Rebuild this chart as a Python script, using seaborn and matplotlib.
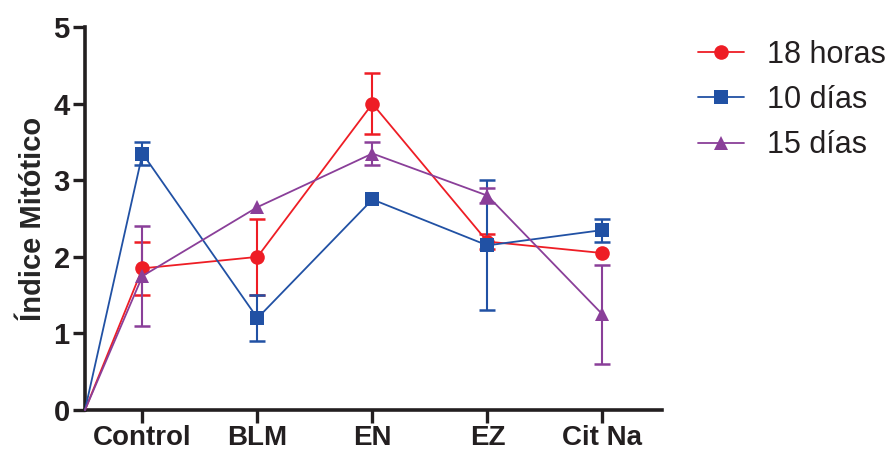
import numpy as np
import matplotlib
matplotlib.use('Agg')
import matplotlib.pyplot as plt
import seaborn as sns

# ── data ──────────────────────────────────────────────────────
categories = ["Control", "BLM", "EN", "EZ", "Cit Na"]
origin_y   = 0.0     # every series starts at the origin

series_names = ["18 horas", "10 días", "15 días"]

horas18      = [1.85, 2.00, 4.00, 2.20, 2.05]
horas18_low  = [1.50, 1.50, 3.60, 2.10, np.nan]
horas18_high = [2.20, 2.50, 4.40, 2.30, np.nan]

dias10      = [3.35, 1.20, 2.75, 2.15, 2.35]
dias10_low  = [3.20, 0.90, np.nan, 1.30, 2.20]
dias10_high = [3.50, 1.50, np.nan, 3.00, 2.50]

dias15      = [1.75, 2.65, 3.35, 2.80, 1.25]
dias15_low  = [1.10, np.nan, 3.20, 2.70, 0.60]
dias15_high = [2.40, np.nan, 3.50, 2.90, 1.90]

colors  = ["#EE1D25", "#2151A4", "#8A3F99"]
markers = ["o", "s", "^"]

# ── style ─────────────────────────────────────────────────────
sns.set_style("ticks")
plt.rcParams['font.family'] = ['Liberation Sans', 'DejaVu Sans']

fig = plt.figure(figsize=(8.9, 4.53), dpi=100)
ax = fig.add_axes([0.0955, 0.0949, 0.744 - 0.0955, 0.940 - 0.0949])

pos = np.arange(1, len(categories) + 1)
x_start = pos[0] - 0.5

all_vals = [horas18, dias10, dias15]
all_low  = [horas18_low, dias10_low, dias15_low]
all_high = [horas18_high, dias10_high, dias15_high]

for name, vals, lo, hi, col, mk in zip(series_names, all_vals, all_low,
                                       all_high, colors, markers):
    xs = np.concatenate([[x_start], pos])
    ys = np.concatenate([[origin_y], vals])
    sns.lineplot(x=xs, y=ys, ax=ax, color=col, linewidth=1.3,
                 marker=mk, markersize=10 if mk != "o" else 10.5,
                 markeredgecolor=col, markeredgewidth=0,
                 markevery=list(range(1, len(xs))), clip_on=False,
                 label=name, zorder=3)
    vals = np.asarray(vals); lo = np.asarray(lo); hi = np.asarray(hi)
    ok = ~np.isnan(lo)
    ax.errorbar(pos[ok], vals[ok],
                yerr=[vals[ok] - lo[ok], hi[ok] - vals[ok]],
                fmt="none", ecolor=col, elinewidth=1.5, capsize=6,
                capthick=1.8, zorder=2)

# ── axes ──────────────────────────────────────────────────────
ax.set_xlim(x_start, pos[-1] + 0.52)
ax.set_ylim(0, 5)
ax.set_xticks(pos)
ax.set_xticklabels(categories, fontsize=20, fontweight="bold")
ax.set_yticks(range(0, 6))
ax.set_yticklabels([str(v) for v in range(0, 6)], fontsize=21,
                   fontweight="bold")
ax.set_ylabel("Índice Mitótico", fontsize=21, fontweight="bold", labelpad=5)
ax.tick_params(axis="both", length=9, width=2.4, color="#231F20",
               pad=2, labelcolor="#231F20")
ax.tick_params(axis="x", pad=2)
for side in ["left", "bottom"]:
    ax.spines[side].set_linewidth(2.6)
    ax.spines[side].set_color("#231F20")
sns.despine(ax=ax)

leg = ax.legend(loc="upper left", bbox_to_anchor=(0.784, 0.912),
                bbox_transform=fig.transFigure, frameon=False,
                fontsize=22, handlelength=1.5, handletextpad=0.75,
                labelspacing=0.5, borderpad=0, borderaxespad=0)
for t in leg.get_texts():
    t.set_color("#231F20")

fig.savefig("out.png", dpi=100)
plt.close(fig)
